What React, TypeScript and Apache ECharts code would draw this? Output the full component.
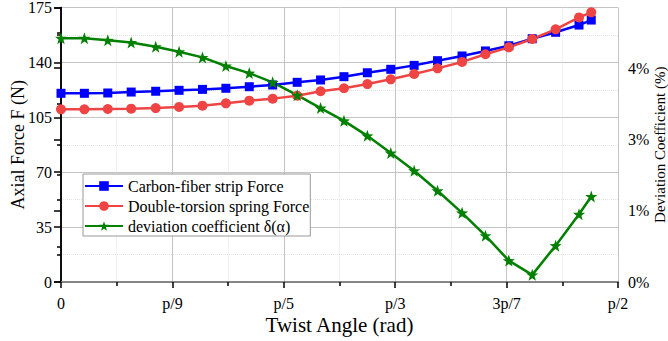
import React, { useEffect, useRef } from "react";
import * as echarts from "echarts";

const xTickLabels = ["0", "p/9", "p/5", "p/3", "3p/7", "p/2"];
const rightTickLabels = ["0%", "1%", "3%", "4%"];

const twistAngle = [0, 0.21, 0.42, 0.63, 0.85, 1.06, 1.27, 1.48, 1.69, 1.9, 2.12, 2.33, 2.54, 2.75, 2.96, 3.17, 3.38, 3.6, 3.81, 4.02, 4.23, 4.44, 4.65, 4.76];
const carbonForce = [120.3, 120.3, 120.5, 121.1, 121.6, 122.2, 122.8, 123.5, 124.5, 125.6, 127.3, 128.8, 130.9, 133.4, 135.6, 138.1, 141.1, 144.1, 147.3, 150.6, 155.1, 159.2, 163.8, 167.0];
const springForce = [110.1, 110.1, 110.3, 110.5, 110.9, 111.6, 112.4, 113.9, 115.6, 116.9, 118.8, 121.6, 123.5, 126.2, 129.2, 132.6, 136.2, 140.3, 145.2, 149.6, 154.9, 161.1, 168.7, 171.9];
const deviation = [3.42, 3.42, 3.39, 3.36, 3.3, 3.23, 3.15, 3.03, 2.93, 2.8, 2.62, 2.44, 2.26, 2.05, 1.81, 1.56, 1.28, 0.97, 0.65, 0.3, 0.1, 0.51, 0.95, 1.2];

const STAR =
  "path://M50 0 L61.76 33.82 L97.55 34.55 L69.02 56.18 L79.39 90.45 L50 70 L20.61 90.45 L30.98 56.18 L2.45 34.55 L38.24 33.82 Z";

const FONT = "Liberation Serif";

export default function App() {
  const ref = useRef<HTMLDivElement>(null);
  useEffect(() => {
    document.body.style.margin = "0";
    const chart = echarts.init(ref.current!, null, { renderer: "svg" });
    const axisLine = { show: true, lineStyle: { color: "#000", width: 1.5 } };
    chart.setOption({
      animation: false,
      backgroundColor: "#fff",
      grid: { left: 61, right: 50, top: 7.5, bottom: 59, containLabel: false, outerBoundsMode: "none" },
      legend: {
        orient: "vertical",
        left: 83,
        top: 174,
        padding: [4, 1, 2, 1],
        itemGap: 4,
        itemWidth: 38,
        itemHeight: 12,
        borderColor: "#999",
        borderWidth: 1,
        backgroundColor: "#fff",
        textStyle: { fontFamily: FONT, fontSize: 16, color: "#000" },
        data: ["Carbon-fiber strip Force", "Double-torsion spring Force", "deviation coefficient δ(α)"],
      },
      xAxis: [
        {
          type: "value",
          min: 0,
          max: 5,
          interval: 1,
          name: "Twist Angle (rad)",
          nameLocation: "middle",
          nameGap: 32,
          nameMoveOverlap: false,
          nameTextStyle: { fontFamily: FONT, fontSize: 21, color: "#000" },
          axisLine,
          axisTick: { show: true, length: 6, inside: false, lineStyle: { color: "#000", width: 1.5 } },
          minorTick: { show: true, splitNumber: 2, length: 4, lineStyle: { color: "#000", width: 1.5 } },
          splitLine: { show: true, lineStyle: { color: "#c4c4c4", width: 1 } },
          minorSplitLine: { show: true, lineStyle: { color: "#e2e2e2", width: 1, type: "dotted" } },
          axisLabel: {
            margin: 13,
            fontFamily: FONT,
            fontSize: 16,
            color: "#000",
            formatter: (v: number) => xTickLabels[Math.round(v)] ?? "",
          },
        },
        {
          type: "value",
          position: "top",
          min: 0,
          max: 5,
          axisLine: { show: true, lineStyle: { color: "#a0a0a0", width: 1.5 } },
          axisTick: { show: false },
          axisLabel: { show: false },
          splitLine: { show: false },
        },
      ],
      yAxis: [
        {
          type: "value",
          min: 0,
          max: 175,
          interval: 35,
          name: "Axial Force F (N)",
          nameLocation: "middle",
          nameRotate: 90,
          nameGap: 34,
          nameMoveOverlap: false,
          nameTextStyle: { fontFamily: FONT, fontSize: 18, color: "#000" },
          axisLine,
          axisTick: { show: true, length: 7, inside: false, lineStyle: { color: "#000", width: 1.5 } },
          minorTick: { show: true, splitNumber: 2, length: 4, lineStyle: { color: "#000", width: 1.5 } },
          splitLine: { show: true, lineStyle: { color: "#c4c4c4", width: 1 } },
          minorSplitLine: { show: true, lineStyle: { color: "#e2e2e2", width: 1, type: "dotted" } },
          axisLabel: { margin: 9, fontFamily: FONT, fontSize: 16, color: "#000" },
        },
        {
          type: "value",
          position: "right",
          min: 0,
          max: 3.85,
          interval: 1,
          name: "Deviation Coefficient (%)",
          nameLocation: "middle",
          nameRotate: 90,
          nameGap: 34,
          nameMoveOverlap: false,
          nameTextStyle: { fontFamily: FONT, fontSize: 15, color: "#000" },
          axisLine,
          axisTick: { show: true, length: 7, inside: true, lineStyle: { color: "#000", width: 1.5 } },
          minorTick: { show: true, splitNumber: 2, length: 4, lineStyle: { color: "#000", width: 1.5 } },
          splitLine: { show: false },
          axisLabel: {
            margin: 10,
            fontFamily: FONT,
            fontSize: 16,
            color: "#000",
            formatter: (v: number) => (Math.abs(v - Math.round(v)) < 1e-6 ? rightTickLabels[Math.round(v)] ?? "" : ""),
          },
        },
      ],
      series: [
        {
          name: "Carbon-fiber strip Force",
          type: "line",
          xAxisIndex: 0,
          yAxisIndex: 0,
          data: twistAngle.map((x, i) => [x, carbonForce[i]]),
          symbol: "rect",
          symbolSize: 9,
          lineStyle: { color: "#0000ff", width: 2.5 },
          itemStyle: { color: "#0000ff" },
        },
        {
          name: "Double-torsion spring Force",
          type: "line",
          xAxisIndex: 0,
          yAxisIndex: 0,
          data: twistAngle.map((x, i) => [x, springForce[i]]),
          symbol: "circle",
          symbolSize: 10,
          lineStyle: { color: "#ee4444", width: 2.5 },
          itemStyle: { color: "#ee4444" },
        },
        {
          name: "deviation coefficient δ(α)",
          type: "line",
          xAxisIndex: 0,
          yAxisIndex: 1,
          data: twistAngle.map((x, i) => [x, deviation[i]]),
          symbol: STAR,
          symbolSize: 12,
          lineStyle: { color: "#008000", width: 2.5 },
          itemStyle: { color: "#008000" },
        },
      ],
    });
    return () => chart.dispose();
  }, []);
  return <div ref={ref} style={{ position: "absolute", left: 0, top: 0, width: 668, height: 341 }} />;
}
